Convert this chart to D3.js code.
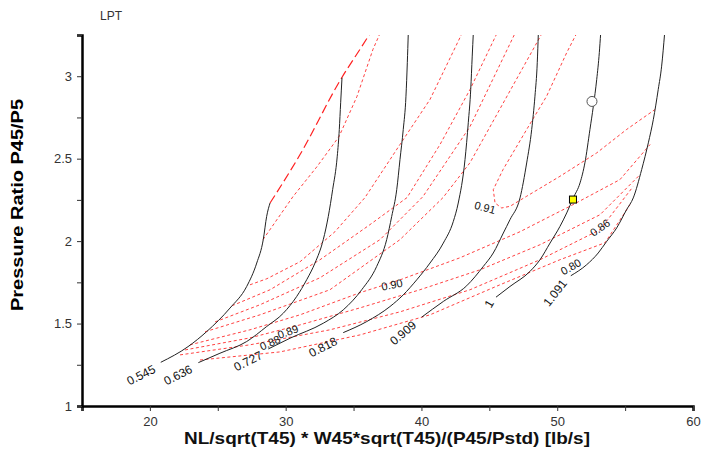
<!DOCTYPE html>
<html><head><meta charset="utf-8">
<script src="https://cdn.jsdelivr.net/npm/d3@7"></script>
<style>body{margin:0;background:#fff}svg{display:block}</style>
</head><body><div id="chart"></div>
<script>
// ---- data ----
const xTicks = [15,20,25,30,35,40,45,50,55,60];
const xTickLabels = [20,30,40,50,60];
const yTicks = [1,1.25,1.5,1.75,2,2.25,2.5,2.75,3,3.25];
const yTickLabels = [1,1.5,2,2.5,3];

const speedNames = ["0.545","0.636","0.727","0.818","0.909","1","1.091"];
const speed0545 = [[20.80,1.265],[22.81,1.360],[24.18,1.451],[25.90,1.594],[27.13,1.725],[27.87,1.867],[28.35,2.009],[28.60,2.150],[28.85,2.231]];
const speed0636 = [[23.57,1.263],[25.16,1.320],[27.13,1.391],[28.60,1.482],[29.83,1.563],[30.81,1.664],[31.55,1.766],[32.16,1.867],[32.77,2.009],[33.14,2.150],[33.46,2.312],[33.80,2.515],[33.95,2.677],[34.05,2.839],[34.15,2.991]];
const speed0727 = [[28.72,1.346],[30.32,1.411],[32.77,1.502],[34.24,1.583],[35.60,1.705],[36.70,1.846],[37.44,2.009],[37.81,2.150],[38.18,2.312],[38.42,2.495],[38.66,2.677],[38.86,2.879],[38.96,3.082],[39.03,3.26]];
const speed0818 = [[34.24,1.445],[35.97,1.512],[37.68,1.603],[38.66,1.674],[39.65,1.765],[40.63,1.867],[41.61,1.988],[42.35,2.120],[42.71,2.231],[43.21,2.495],[43.45,2.718],[43.63,2.920],[43.74,3.122],[43.82,3.26]];
const speed0909 = [[40.02,1.539],[41.61,1.634],[43.33,1.729],[44.55,1.846],[45.29,1.928],[46.03,2.049],[46.52,2.130],[47.26,2.262],[47.75,2.474],[48.12,2.677],[48.36,2.879],[48.53,3.082],[48.61,3.26]];
const speed1000 = [[45.49,1.660],[46.52,1.725],[47.99,1.816],[48.73,1.887],[49.47,1.988],[50.20,2.089],[50.70,2.171],[51.18,2.262],[51.68,2.353],[52.04,2.475],[52.41,2.677],[52.66,2.818],[52.91,2.981],[53.10,3.143],[53.20,3.26]];
const speed1091 = [[51.00,1.790],[52.17,1.857],[53.02,1.928],[53.64,1.998],[54.38,2.080],[55.11,2.191],[55.60,2.262],[56.22,2.434],[56.71,2.596],[57.08,2.738],[57.44,2.920],[57.69,3.061],[57.91,3.26]];
const speedLines = [speed0545,speed0636,speed0727,speed0818,speed0909,speed1000,speed1091];
const speedLabelPos = [[19.35,1.188],[22.07,1.188],[27.23,1.273],[32.75,1.358],[38.64,1.443],[44.97,1.620],[49.84,1.687]];

const surgeLine = [[28.85,2.231],[31.06,2.525],[34.13,2.991],[35.47,3.163],[36.30,3.27]];

const effA = [[28.33,2.009],[30.54,2.270],[32.31,2.452],[33.93,2.634],[35.25,2.877],[36.43,3.163],[36.95,3.26]];
const effB = [[27.37,1.735],[28.62,1.772],[31.06,1.875],[33.63,2.057],[35.84,2.264],[38.42,2.586],[40.63,2.859],[42.99,3.26]];
const effC = [[26.05,1.608],[28.85,1.705],[32.53,1.887],[36.21,2.100],[38.94,2.264],[41.37,2.586],[43.58,2.920],[45.56,3.26]];
const effD = [[24.80,1.510],[28.11,1.614],[32.53,1.778],[36.95,2.009],[40.11,2.270],[43.58,2.695],[46.89,3.26]];
const effE = [[24.06,1.450],[28.11,1.553],[33.26,1.705],[38.42,2.009],[41.59,2.264],[43.58,2.476],[48.88,3.26]];
const eff091 = [[51.43,3.26],[50.70,3.143],[49.22,2.879],[47.75,2.677],[46.01,2.434],[45.29,2.312],[45.42,2.231],[45.91,2.201],[46.52,2.211],[47.75,2.272],[50.20,2.393],[52.91,2.535],[55.11,2.677],[57.20,2.798]];
const effG = [[22.95,1.371],[27.37,1.462],[31.06,1.553],[35.47,1.687],[38.42,1.765],[42.84,1.899],[47.26,2.057],[51.16,2.221],[54.62,2.373],[56.84,2.586]];
const effH = [[22.59,1.340],[27.37,1.413],[31.06,1.492],[35.47,1.595],[39.89,1.705],[44.31,1.826],[48.73,1.978],[53.15,2.160],[56.10,2.403]];
const effI = [[22.22,1.310],[27.37,1.371],[33.26,1.462],[38.42,1.571],[43.58,1.705],[48.73,1.887],[53.15,2.069],[55.58,2.330]];
const effJ = [[23.69,1.279],[29.58,1.328],[35.47,1.431],[40.63,1.553],[45.78,1.735],[50.20,1.887],[53.52,1.990],[55.36,2.221]];
const effLines = [effA,effB,effC,effD,effE,eff091,effG,effH,effI,effJ];

const effLabels = ["0.88","0.89","0.90","0.91","0.86","0.80"];
const effLabelPos = [[28.85,1.383],[30.17,1.450],[37.83,1.735],[44.68,2.203],[53.15,2.081],[51.01,1.844]];

const opPointCircle = [52.56,2.847];
const opPointSquare = [51.16,2.252];

// ---- layout ----
const W = 706, H = 451;
const m = {left:82, right:13, top:35, bottom:45};
const svg = d3.select("#chart").append("svg").attr("width",W).attr("height",H);
const x = d3.scaleLinear().domain([15,60]).range([m.left, W-m.right]);
const y = d3.scaleLinear().domain([1,3.25]).range([H-m.bottom, m.top]);

svg.append("defs").append("clipPath").attr("id","clip")
  .append("rect").attr("x",m.left).attr("y",m.top).attr("width",W-m.left-m.right).attr("height",H-m.top-m.bottom);

const font = "Liberation Sans, Arial, sans-serif";

// axes
const xAxis = d3.axisBottom(x).tickValues(xTicks).tickSize(5)
  .tickFormat(d => xTickLabels.includes(d) ? d : "");
const yAxis = d3.axisLeft(y).tickValues(yTicks).tickSize(5)
  .tickFormat(d => yTickLabels.includes(d) ? d : "");
const gx = svg.append("g").attr("transform",`translate(0,${H-m.bottom})`).call(xAxis);
const gy = svg.append("g").attr("transform",`translate(${m.left},0)`).call(yAxis);
[gx,gy].forEach(g=>{
  g.select(".domain").attr("stroke","#000").attr("stroke-width",2.5);
  g.selectAll(".tick line").attr("stroke","#333").attr("stroke-width",1);
  g.selectAll("text").attr("font-family",font).attr("font-size",13).attr("fill","#333");
});
gx.selectAll("text").attr("dy","0.9em");
gy.selectAll("text").attr("dx","-2");

// plot content
const plot = svg.append("g").attr("clip-path","url(#clip)");
const line = d3.line().x(d=>x(d[0])).y(d=>y(d[1]));
const smooth = d3.line().x(d=>x(d[0])).y(d=>y(d[1])).curve(d3.curveMonotoneX);

plot.selectAll(".eff").data(effLines).join("path")
  .attr("d",line).attr("fill","none").attr("stroke","#ff2020").attr("stroke-width",1)
  .attr("stroke-dasharray","3,2.5").attr("opacity",0.85);

plot.append("path").datum(surgeLine).attr("d",smooth).attr("fill","none")
  .attr("stroke","#ff2020").attr("stroke-width",1.2).attr("stroke-dasharray","9,4");

plot.selectAll(".spd").data(speedLines).join("path")
  .attr("d",smooth).attr("fill","none").attr("stroke","#222").attr("stroke-width",1);

// speed labels
const speedAngles = [-27,-27,-27,-27,-40,-60,-52];
svg.selectAll(".slab").data(speedNames).join("text")
  .attr("transform",(d,i)=>`translate(${x(speedLabelPos[i][0])},${y(speedLabelPos[i][1])}) rotate(${speedAngles[i]})`)
  .attr("text-anchor","middle").attr("dy","0.35em")
  .attr("font-family",font).attr("font-size",12).attr("fill","#111").text(d=>d);

const effAngles = [-25,-20,-12,15,-35,-30];
svg.selectAll(".elab").data(effLabels).join("text")
  .attr("transform",(d,i)=>`translate(${x(effLabelPos[i][0])},${y(effLabelPos[i][1])}) rotate(${effAngles[i]})`)
  .attr("text-anchor","middle").attr("dy","0.35em")
  .attr("font-family",font).attr("font-size",11).attr("fill","#111").text(d=>d);

// markers
svg.append("circle").attr("cx",x(opPointCircle[0])).attr("cy",y(opPointCircle[1])).attr("r",5)
  .attr("fill","#fff").attr("stroke","#555").attr("stroke-width",1);
svg.append("rect").attr("x",x(opPointSquare[0])-3.5).attr("y",y(opPointSquare[1])-3.5)
  .attr("width",7).attr("height",7).attr("fill","#ffff00").attr("stroke","#000").attr("stroke-width",1);

// titles
svg.append("text").attr("x",100).attr("y",20).attr("font-family",font).attr("font-size",12)
  .attr("fill","#333").text("LPT");
svg.append("text").attr("transform",`translate(23,205) rotate(-90)`)
  .attr("text-anchor","middle").attr("font-family",font).attr("font-size",17).attr("font-weight","bold")
  .attr("textLength",212).attr("lengthAdjust","spacingAndGlyphs")
  .attr("fill","#000").text("Pressure Ratio P45/P5");
svg.append("text").attr("x",387).attr("y",444).attr("text-anchor","middle")
  .attr("font-family",font).attr("font-size",17).attr("font-weight","bold")
  .attr("textLength",406).attr("lengthAdjust","spacingAndGlyphs").attr("fill","#111")
  .text("NL/sqrt(T45) * W45*sqrt(T45)/(P45/Pstd) [lb/s]");
</script></body></html>
